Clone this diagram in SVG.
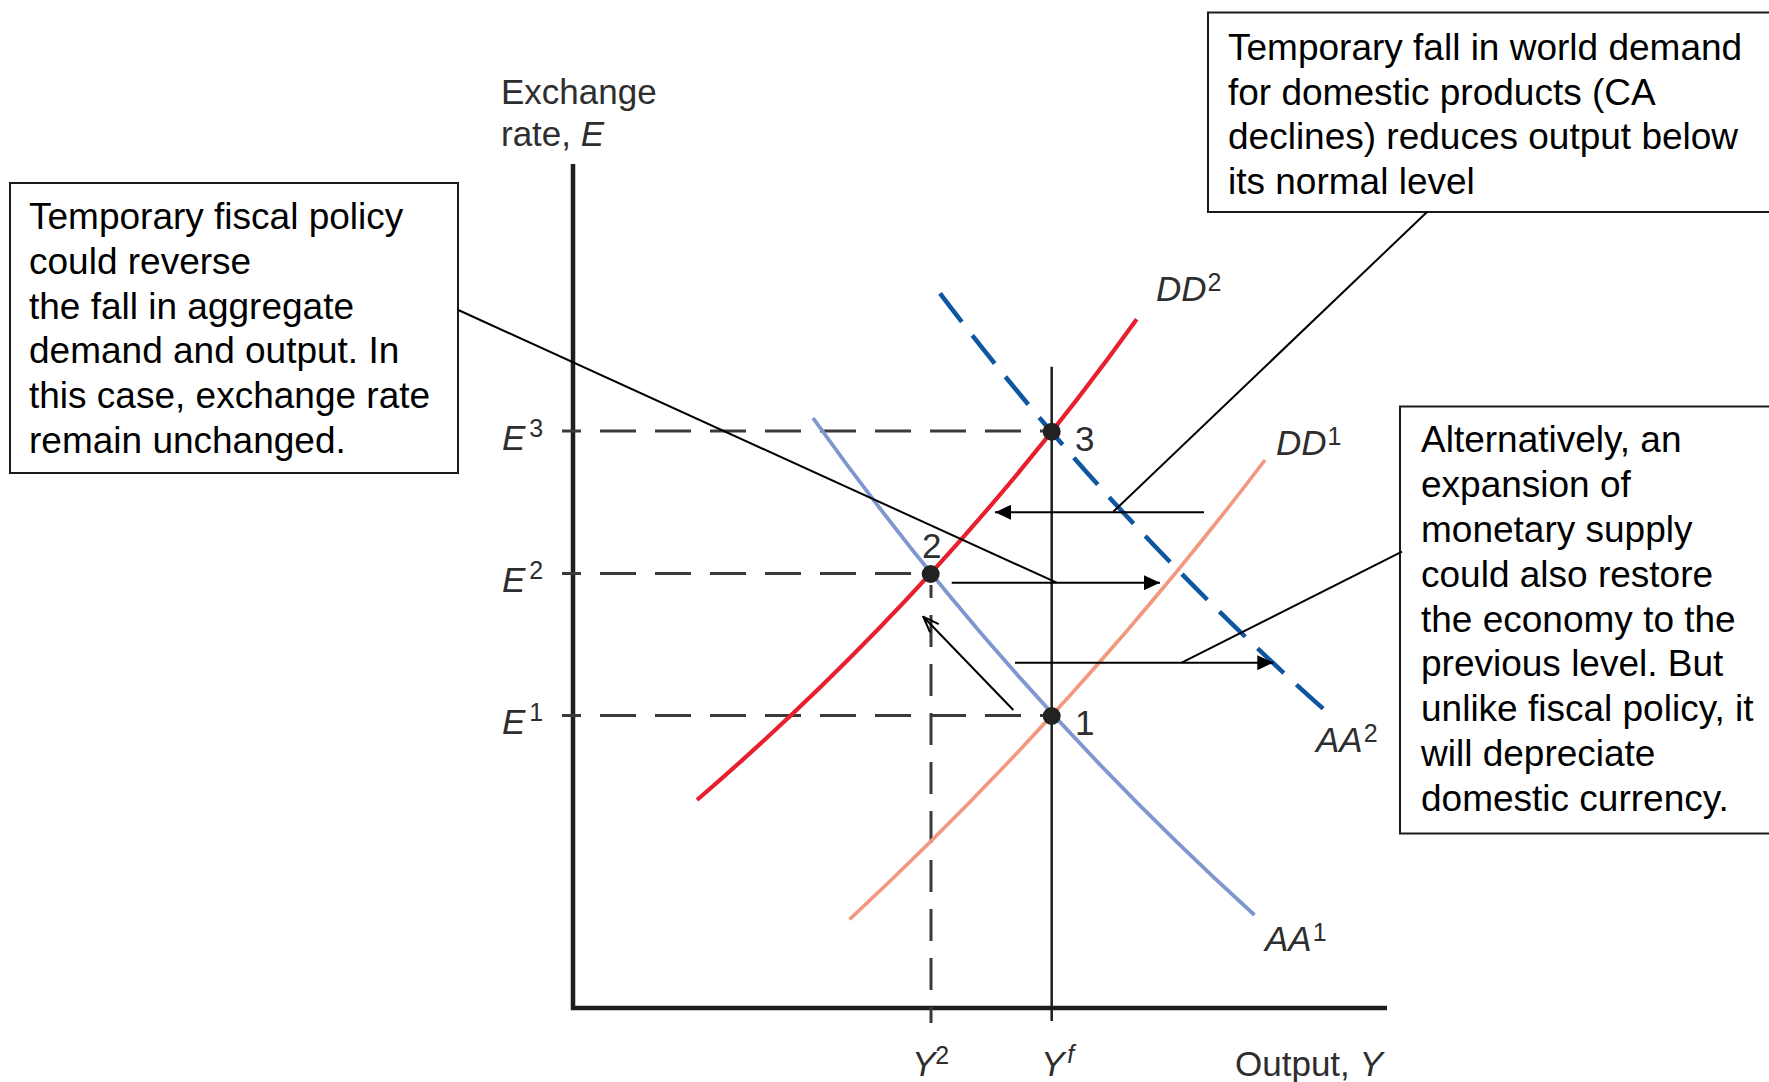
<svg xmlns="http://www.w3.org/2000/svg" width="1769" height="1082" viewBox="0 0 1769 1082">
<style>
.box{fill:#fff;stroke:#1a1a1a;stroke-width:2}
.bt{font-family:"Liberation Sans",Arial,sans-serif;font-size:37px;fill:#000}
.lab{font-family:"Liberation Sans",Arial,sans-serif;font-size:35px;fill:#2e2e2e}
.it{font-style:italic}
.sup{font-size:25px;font-style:normal}
.supi{font-size:25px;font-style:italic}
.axis{stroke:#1e1e1e;stroke-width:4.5;fill:none}
.guide{stroke:#3a3a3a;stroke-width:3;fill:none;stroke-dasharray:36 19}
.tick{stroke:#3a3a3a;stroke-width:3}
.conn{stroke:#000;stroke-width:2;fill:none}
.dot{fill:#222}
</style>
<defs>
<marker id="fill" viewBox="0 0 16 15" refX="16" refY="7.5" markerWidth="16" markerHeight="15" markerUnits="userSpaceOnUse" orient="auto">
<path d="M0,0 L16,7.5 L0,15 z" fill="#000"/>
</marker>
<marker id="open" viewBox="0 0 18 14" refX="17" refY="7" markerWidth="18" markerHeight="14" markerUnits="userSpaceOnUse" orient="auto">
<path d="M1,1 L17,7 L1,13" fill="none" stroke="#000" stroke-width="2"/>
</marker>
</defs>

<g id="axes">
<path class="axis" d="M573,164 L573,1008 L1387,1008"/>
<text class="lab" x="501" y="104">Exchange</text>
<text class="lab" x="501" y="146">rate, <tspan class="it">E</tspan></text>
<text class="lab" x="1235" y="1076">Output, <tspan class="it">Y</tspan></text>
</g>

<g id="guides">
<line class="tick" x1="562" y1="431" x2="581" y2="431"/>
<line class="guide" x1="600" y1="431" x2="1052" y2="431"/>
<line class="tick" x1="562" y1="573.5" x2="581" y2="573.5"/>
<line class="guide" x1="600" y1="573.5" x2="931" y2="573.5"/>
<line class="tick" x1="562" y1="715.5" x2="581" y2="715.5"/>
<line class="guide" x1="600" y1="715.5" x2="1052" y2="715.5"/>
<line class="guide" x1="931" y1="1023" x2="931" y2="585" style="stroke-dasharray:32 17;stroke-dashoffset:16"/>
<line stroke="#1e1e1e" stroke-width="2.5" x1="1051.7" y1="366.7" x2="1051.7" y2="1021"/>
<text class="lab" x="502" y="450"><tspan class="it">E</tspan><tspan class="sup" dx="4" dy="-13">3</tspan></text>
<text class="lab" x="502" y="592"><tspan class="it">E</tspan><tspan class="sup" dx="4" dy="-13">2</tspan></text>
<text class="lab" x="502" y="734"><tspan class="it">E</tspan><tspan class="sup" dx="4" dy="-13">1</tspan></text>
<text class="lab" x="912" y="1076"><tspan class="it">Y</tspan><tspan class="sup" dx="0" dy="-12">2</tspan></text>
<text class="lab" x="1041" y="1076"><tspan class="it">Y</tspan><tspan class="supi" dx="3" dy="-13">f</tspan></text>
</g>

<g id="curves">
<path id="DD2" d="M697,800 Q945.6,586 1136.7,319.3" fill="none" stroke="#e8202e" stroke-width="4.2"/>
<path id="DD1" d="M849.5,919.5 Q1077,707.6 1265,460" fill="none" stroke="#f4977f" stroke-width="3.6"/>
<path id="AA1" d="M813,418 Q1007,690.3 1254.5,915" fill="none" stroke="#7f96cf" stroke-width="3.8"/>
<path id="AA2" d="M940,293.3 Q1113,522.4 1328.3,713.3" fill="none" stroke="#0f56a0" stroke-width="4.5" stroke-dasharray="36 17"/>
<text class="lab it" x="1156" y="301">DD<tspan class="sup" dx="1" dy="-10">2</tspan></text>
<text class="lab it" x="1276" y="455">DD<tspan class="sup" dx="1" dy="-10">1</tspan></text>
<text class="lab it" x="1316" y="752">AA<tspan class="sup" dx="1" dy="-10">2</tspan></text>
<text class="lab it" x="1265" y="951">AA<tspan class="sup" dx="1" dy="-10">1</tspan></text>
</g>

<g id="point1"><circle class="dot" cx="1051.7" cy="716" r="9"/><text class="lab" x="1075" y="735">1</text></g>
<g id="point2"><circle class="dot" cx="930.7" cy="574" r="9"/><text class="lab" x="922" y="558">2</text></g>
<g id="point3"><circle class="dot" cx="1051.7" cy="431.7" r="9"/><text class="lab" x="1075" y="451">3</text></g>

<g id="box-fiscal">
<rect class="box" x="10" y="183" width="448" height="290"/>
<text class="bt" x="29" y="229">Temporary fiscal policy</text>
<text class="bt" x="29" y="274">could reverse</text>
<text class="bt" x="29" y="319">the fall in aggregate</text>
<text class="bt" x="29" y="363">demand and output. In</text>
<text class="bt" x="29" y="408">this case, exchange rate</text>
<text class="bt" x="29" y="453">remain unchanged.</text>
</g>

<g id="box-demand">
<rect class="box" x="1208" y="12.5" width="580" height="199.5"/>
<text class="bt" x="1228" y="60">Temporary fall in world demand</text>
<text class="bt" x="1228" y="105">for domestic products (CA</text>
<text class="bt" x="1228" y="149">declines) reduces output below</text>
<text class="bt" x="1228" y="194">its normal level</text>
</g>

<g id="box-monetary">
<rect class="box" x="1400" y="406.5" width="400" height="427"/>
<text class="bt" x="1421" y="452">Alternatively, an</text>
<text class="bt" x="1421" y="497">expansion of</text>
<text class="bt" x="1421" y="542">monetary supply</text>
<text class="bt" x="1421" y="587">could also restore</text>
<text class="bt" x="1421" y="632">the economy to the</text>
<text class="bt" x="1421" y="676">previous level. But</text>
<text class="bt" x="1421" y="721">unlike fiscal policy, it</text>
<text class="bt" x="1421" y="766">will depreciate</text>
<text class="bt" x="1421" y="811">domestic currency.</text>
</g>

<g id="connectors">
<line class="conn" x1="1204" y1="512.3" x2="995" y2="512.3" marker-end="url(#fill)"/>
<line class="conn" x1="951.7" y1="582.7" x2="1160" y2="582.7" marker-end="url(#fill)"/>
<line class="conn" x1="1015" y1="662.7" x2="1273.3" y2="662.7" marker-end="url(#fill)"/>
<line class="conn" x1="1013.3" y1="710" x2="923.3" y2="616.7" marker-end="url(#open)"/>
<line class="conn" x1="1427" y1="212" x2="1113.3" y2="511.7"/>
<line class="conn" x1="458.3" y1="310" x2="1056.7" y2="582.7"/>
<line class="conn" x1="1402" y1="551.7" x2="1181.7" y2="662.7"/>
</g>
</svg>
